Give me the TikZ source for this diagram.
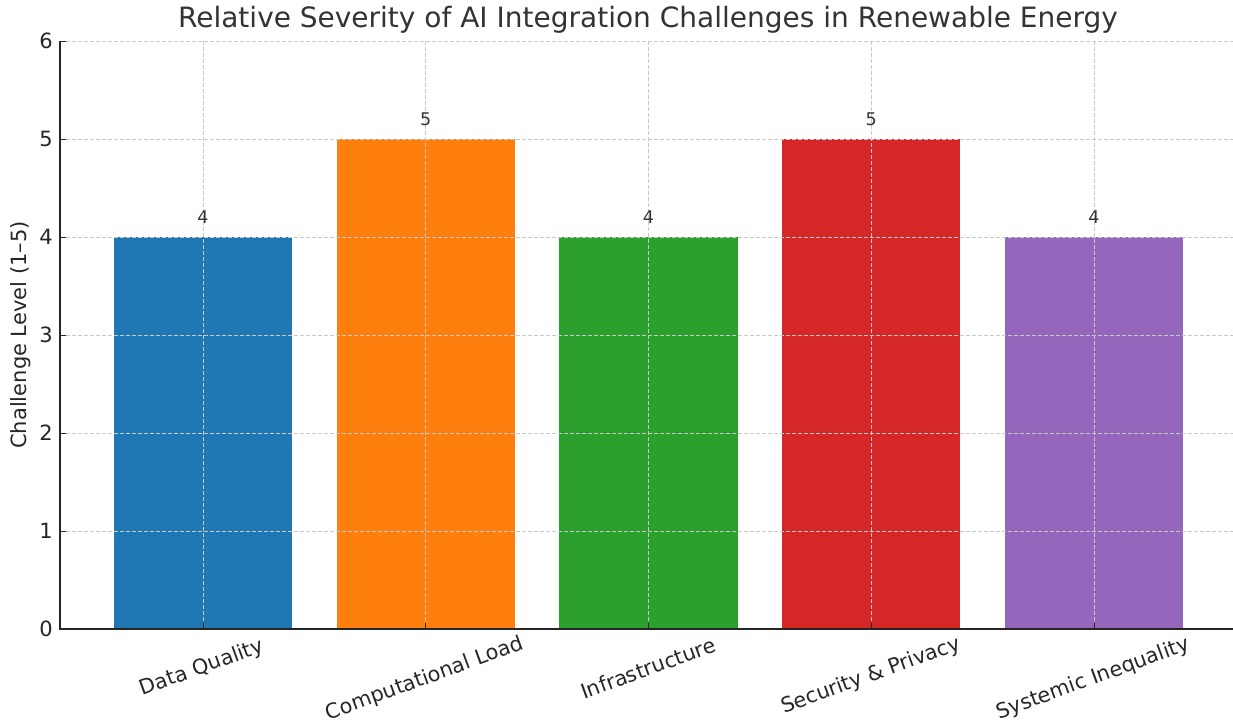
\documentclass[tikz,border=0pt]{standalone}
\usepackage{fontspec}
\setmainfont{DejaVu Sans}
\definecolor{cblue}{HTML}{1F77B4}
\definecolor{corange}{HTML}{FF7F0E}
\definecolor{cgreen}{HTML}{2CA02C}
\definecolor{cred}{HTML}{D62728}
\definecolor{cpurple}{HTML}{9467BD}
\definecolor{txt}{HTML}{262626}
\definecolor{ttl}{HTML}{333333}
\definecolor{gridc}{HTML}{C8C8C8}
\tikzset{
  gridline/.style={draw=gridc, line width=0.9pt, dash pattern=on 4pt off 2pt},
  axisline/.style={draw=txt, line width=1.4pt},
  tickmark/.style={draw=txt, line width=1pt},
  ticklab/.style={text=txt, font=\fontsize{21}{24}\selectfont},
  vallab/.style={text=ttl, font=\fontsize{17.5}{20}\selectfont},
  xlab/.style={text=txt, font=\fontsize{20.7}{24}\selectfont, rotate=20, anchor=center, inner sep=0pt},
}
\begin{document}
\begin{tikzpicture}[x=1pt,y=-1pt]
\path[use as bounding box] (0,0) rectangle (1233,723);
% bars
\foreach \cx/\v/\c in {203/4/cblue, 425.75/5/corange, 648.5/4/cgreen, 871.25/5/cred, 1094/4/cpurple}{
  \fill[\c] (\cx-89.1, 629) rectangle (\cx+89.1, 629-98*\v);
}
% grid
\foreach \v in {1,...,6}{
  \draw[gridline] (60, 629-98*\v) -- (1233, 629-98*\v);
}
\foreach \cx in {203, 425.75, 648.5, 871.25, 1094}{
  \draw[gridline] (\cx, 41) -- (\cx, 629);
  \draw[tickmark] (\cx, 629) -- (\cx, 623);
}
% axes
\coordinate (o) at (60,629);
\coordinate (ytop) at (60,41);
\coordinate (xend) at (1233,629);
\draw[axisline] (ytop) -- (o) -- (xend);
% y ticks
\foreach \v in {0,...,6}{
  \draw[tickmark] (60, 629-98*\v) -- (66, 629-98*\v);
  \node[ticklab, anchor=east, inner sep=0pt] (yt\v) at (53, 629-98*\v) {\v};
}
% value labels
\node[vallab] (v1) at (203, 217) {4};
\node[vallab] (v2) at (425.75, 119) {5};
\node[vallab] (v3) at (648.5, 217) {4};
\node[vallab] (v4) at (871.25, 119) {5};
\node[vallab] (v5) at (1094, 217) {4};
% x labels
\node[xlab] (x1) at (202, 668) {Data Quality};
\node[xlab] (x2) at (425, 679) {Computational Load};
\node[xlab] (x3) at (648, 668) {Infrastructure};
\node[xlab] (x4) at (871, 676) {Security \& Privacy};
\node[xlab] (x5) at (1093, 679) {Systemic Inequality};
% axis label
\node[text=txt, font=\fontsize{21}{24}\selectfont, rotate=90, inner sep=0pt] (ylab) at (21, 335) {Challenge Level (1–5)};
% title
\node[text=ttl, font=\fontsize{28}{32}\selectfont, inner sep=0pt] (title) at (648, 20) {Relative Severity of AI Integration Challenges in Renewable Energy};
\end{tikzpicture}
\end{document}
